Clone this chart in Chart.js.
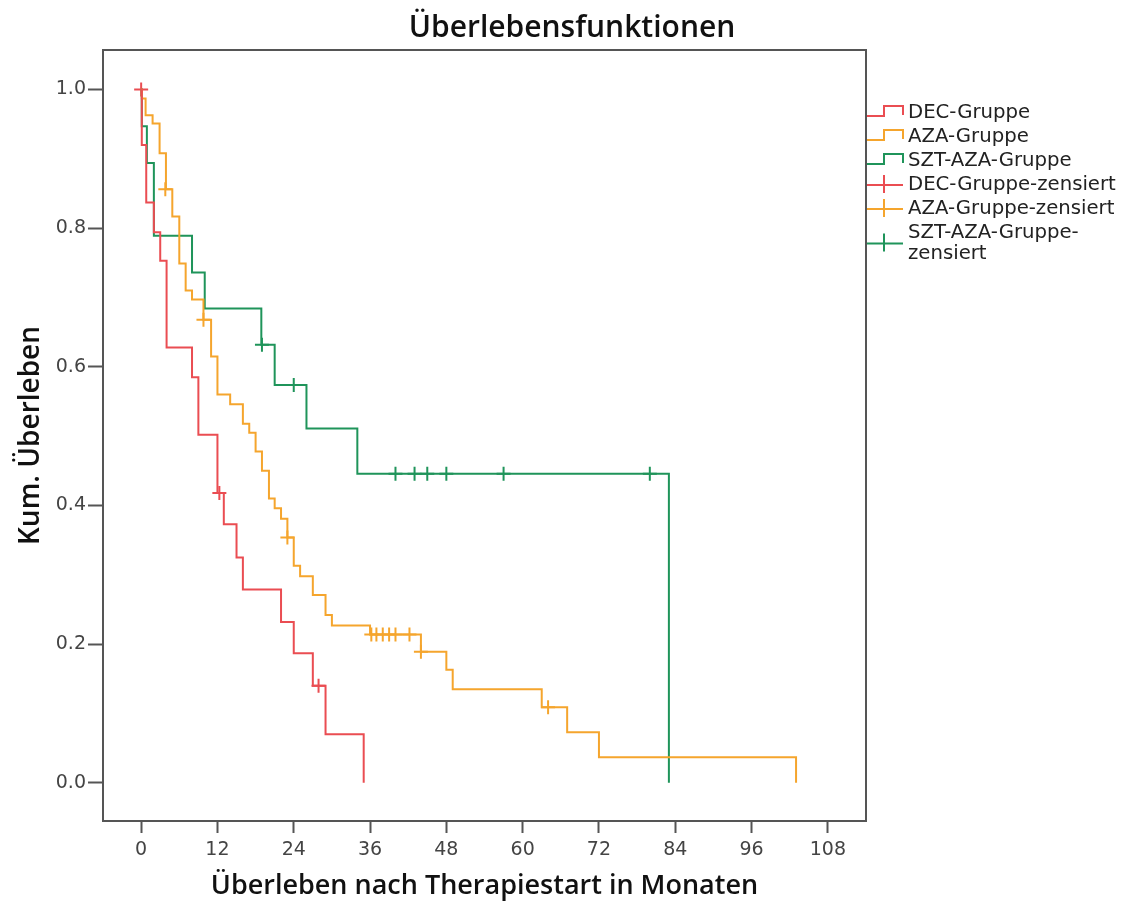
<!DOCTYPE html>
<html lang="de">
<head>
<meta charset="utf-8">
<title>Überlebensfunktionen</title>
<script src="https://cdn.jsdelivr.net/npm/chart.js@4.4.1/dist/chart.umd.min.js"></script>
<style>
  html, body { margin: 0; padding: 0; background: #fff; }
  #wrap { position: relative; width: 1126px; height: 906px; }
</style>
</head>
<body>
<div id="wrap"><canvas id="survivalChart"></canvas></div>
<script>
// Kaplan-Meier curves, values (months / cumulative survival)
const decMonths   = [0, 0.1, 0.8, 2, 3, 4, 8, 9, 12, 13, 15, 16, 22, 24, 27, 29, 35];
const decSurvival = [1.0, 0.92, 0.837, 0.794, 0.753, 0.628, 0.585, 0.502, 0.418, 0.373, 0.325, 0.279, 0.232, 0.187, 0.14, 0.07, 0.0];
const decCensMonths   = [0, 12.3, 27.9];
const decCensSurvival = [1.0, 0.418, 0.14];

const azaMonths   = [0, 0.1, 0.7, 1.8, 2.9, 3.9, 4.9, 6.0, 7.0, 8.0, 9.8, 11.0, 12.0, 14.0, 16.0, 17.0, 18.0, 19.0, 20.1, 21.0, 22.0, 23.0, 24.0, 25.0, 27.0, 29.0, 30.0, 36.0, 44.0, 48.0, 49.0, 63.0, 67.0, 72.0, 103.0];
const azaSurvival = [1.0, 0.987, 0.963, 0.951, 0.908, 0.856, 0.817, 0.749, 0.71, 0.697, 0.668, 0.615, 0.56, 0.546, 0.518, 0.505, 0.478, 0.45, 0.41, 0.396, 0.381, 0.354, 0.313, 0.298, 0.271, 0.242, 0.227, 0.214, 0.189, 0.163, 0.135, 0.109, 0.073, 0.037, 0.0];
const azaCensMonths   = [3.8, 9.8, 23.0, 36.2, 37.0, 38.0, 39.0, 40.0, 42.2, 44.0, 64.0];
const azaCensSurvival = [0.856, 0.668, 0.354, 0.214, 0.214, 0.214, 0.214, 0.214, 0.214, 0.189, 0.109];

const sztMonths   = [0, 0.1, 0.9, 2.0, 8.0, 10.0, 18.9, 21.0, 26.0, 34.0, 83.0];
const sztSurvival = [1.0, 0.947, 0.894, 0.789, 0.736, 0.684, 0.632, 0.574, 0.511, 0.446, 0.0];
const sztCensMonths   = [19.0, 24.0, 40.0, 43.0, 45.0, 48.0, 57.0, 80.0];
const sztCensSurvival = [0.632, 0.574, 0.446, 0.446, 0.446, 0.446, 0.446, 0.446];

const xTicks = [0, 12, 24, 36, 48, 60, 72, 84, 96, 108];
const yTicks = [0, 0.2, 0.4, 0.6, 0.8, 1.0];

const legendLabels = [
  ['DEC-Gruppe'], ['AZA-Gruppe'], ['SZT-AZA-Gruppe'],
  ['DEC-Gruppe-zensiert'], ['AZA-Gruppe-zensiert'], ['SZT-AZA-Gruppe-', 'zensiert']
];

const RED = '#ea4d52';
const ORANGE = '#f5a52d';
const GREEN = '#1f945a';

function toPoints(xs, ys) {
  return xs.map((x, i) => ({ x: x, y: ys[i] }));
}

function stepSet(label, xs, ys, color) {
  return {
    label: label, data: toPoints(xs, ys), showLine: true, stepped: true,
    borderColor: color, backgroundColor: color, borderWidth: 2,
    pointRadius: 0, pointHoverRadius: 0, fill: false, kind: 'step'
  };
}

function censSet(label, xs, ys, color) {
  return {
    label: label, data: toPoints(xs, ys), showLine: false,
    pointStyle: 'cross', pointRadius: 7, pointHoverRadius: 7,
    borderColor: color, backgroundColor: color, pointBorderWidth: 2, kind: 'cens'
  };
}

// frame, title and the SPSS-like legend on the right
const spssDecor = {
  id: 'spssDecor',
  afterDraw(chart) {
    const ctx = chart.ctx;
    const a = chart.chartArea;
    ctx.save();
    ctx.strokeStyle = '#555';
    ctx.lineWidth = 2;
    ctx.beginPath();
    ctx.moveTo(a.left, a.top);
    ctx.lineTo(a.right, a.top);
    ctx.lineTo(a.right, a.bottom);
    ctx.stroke();

    ctx.fillStyle = '#111';
    ctx.font = '600 30px "Open Sans"';
    ctx.textAlign = 'center';
    ctx.textBaseline = 'middle';
    ctx.fillText('Überlebensfunktionen', 572, 28);

    ctx.font = '19.7px "DejaVu Sans"';
    ctx.textAlign = 'left';
    const x0 = a.right + 1;
    let c = 113;
    chart.data.datasets.forEach((ds, i) => {
      const lines = legendLabels[i];
      ctx.strokeStyle = ds.borderColor;
      ctx.lineWidth = 2;
      ctx.beginPath();
      if (ds.kind === 'step') {
        ctx.moveTo(x0, c + 3);
        ctx.lineTo(x0 + 17, c + 3);
        ctx.lineTo(x0 + 17, c - 7);
        ctx.lineTo(x0 + 36, c - 7);
        ctx.lineTo(x0 + 36, c + 2);
      } else {
        const cy = c + (lines.length - 1) * 10.5;
        ctx.moveTo(x0, cy);
        ctx.lineTo(x0 + 36, cy);
        ctx.moveTo(x0 + 17, cy - 10);
        ctx.lineTo(x0 + 17, cy + 8);
      }
      ctx.stroke();
      ctx.fillStyle = '#222';
      lines.forEach((t, j) => ctx.fillText(t, 908, c + j * 21));
      c += 24 + (lines.length - 1) * 21;
    });
    ctx.restore();
  }
};

const ctx = document.getElementById('survivalChart').getContext('2d');
const survivalChart = new Chart(ctx, {
  type: 'scatter',
  data: {
    datasets: [
      stepSet('DEC-Gruppe', decMonths, decSurvival, RED),
      stepSet('AZA-Gruppe', azaMonths, azaSurvival, ORANGE),
      stepSet('SZT-AZA-Gruppe', sztMonths, sztSurvival, GREEN),
      censSet('DEC-Gruppe-zensiert', decCensMonths, decCensSurvival, RED),
      censSet('AZA-Gruppe-zensiert', azaCensMonths, azaCensSurvival, ORANGE),
      censSet('SZT-AZA-Gruppe-zensiert', sztCensMonths, sztCensSurvival, GREEN)
    ]
  },
  options: {
    responsive: true,
    maintainAspectRatio: false,
    animation: false,
    devicePixelRatio: 1,
    layout: { padding: { top: 50, right: 260, left: 0, bottom: 0 } },
    plugins: {
      legend: { display: false },
      title: { display: false },
      tooltip: { enabled: false }
    },
    scales: {
      x: {
        type: 'linear',
        min: -6,
        max: 114,
        afterBuildTicks: scale => { scale.ticks = xTicks.map(v => ({ value: v })); },
        afterFit: scale => { scale.height = 85; },
        grid: { drawOnChartArea: false, tickLength: 12, tickWidth: 2, tickColor: '#555' },
        border: { color: '#555', width: 2 },
        ticks: {
          autoSkip: false, maxRotation: 0, padding: 6, color: '#444',
          font: { family: 'DejaVu Sans', size: 19 }
        },
        title: {
          display: true,
          text: 'Überleben nach Therapiestart in Monaten',
          color: '#111',
          font: { family: 'Open Sans', weight: '600', size: 27 },
          padding: { top: 0, bottom: 3 }
        }
      },
      y: {
        type: 'linear',
        min: -0.055,
        max: 1.057,
        afterBuildTicks: scale => { scale.ticks = yTicks.map(v => ({ value: v })); },
        afterFit: scale => { scale.width = 103; },
        grid: { drawOnChartArea: false, tickLength: 15, tickWidth: 2, tickColor: '#555' },
        border: { color: '#555', width: 2 },
        ticks: {
          padding: 2, color: '#444',
          font: { family: 'DejaVu Sans', size: 19 },
          callback: v => v.toFixed(1)
        },
        title: {
          display: true,
          text: 'Kum. Überleben',
          color: '#111',
          font: { family: 'Open Sans', weight: '600', size: 28 },
          padding: { top: 14, bottom: 0 }
        }
      }
    }
  },
  plugins: [spssDecor]
});
</script>
</body>
</html>
